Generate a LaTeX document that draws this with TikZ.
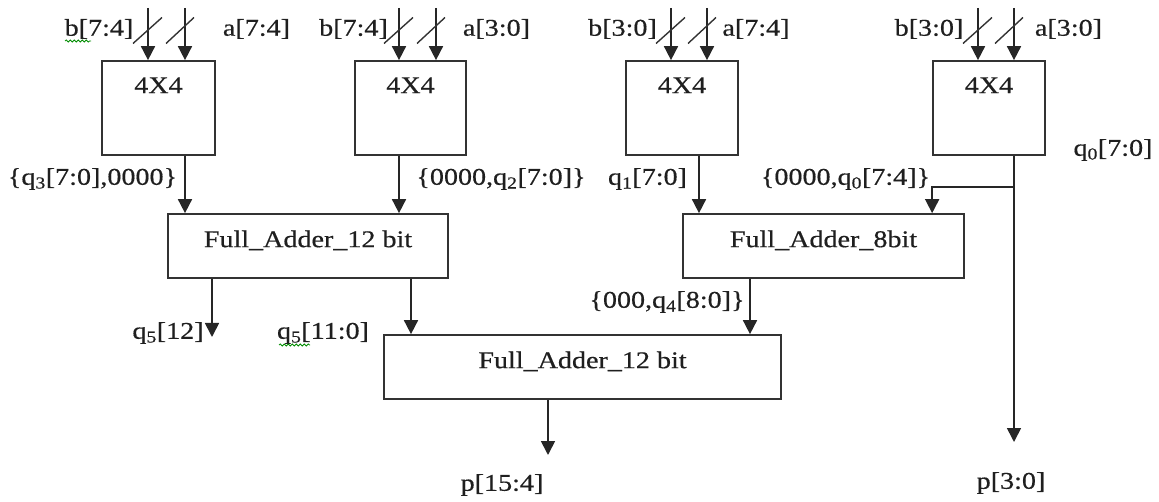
\documentclass[tikz,border=0pt]{standalone}
\usepackage{fontspec}
\setmainfont[FakeStretch=1.17,FakeBold=0.5]{Liberation Serif}
\usetikzlibrary{arrows.meta,decorations.pathmorphing}
\begin{document}
\begin{tikzpicture}[x=1pt,y=-1pt,
  font=\fontsize{24}{28}\selectfont,
  blk/.style={draw=black!80, line width=1.7pt, fill=white, inner sep=0pt},
  wire/.style={draw=black!85, line width=1.7pt},
  arr/.style={wire, -{Triangle[width=14pt,length=14pt]}},
  lbl/.style={inner sep=0pt, text=black!88},
  slash/.style={draw=black!80, line width=1.4pt},
  squig/.style={draw=green!55!black, line width=0.8pt, decorate,
    decoration={snake, amplitude=1pt, segment length=4pt}}]
\useasboundingbox (0,0) rectangle (1159,502);

% 4x4 multiplier blocks
\node[blk, minimum width=113pt, minimum height=94pt] (m1) at (158.5,108) {};
\node[blk, minimum width=111pt, minimum height=94pt] (m2) at (410.5,108) {};
\node[blk, minimum width=112pt, minimum height=94pt] (m3) at (682,108) {};
\node[blk, minimum width=112pt, minimum height=94pt] (m4) at (989,108) {};
\node[lbl, anchor=base] (m1t) at ([yshift=-33pt]m1.north) {4X4};
\node[lbl, anchor=base] (m2t) at ([yshift=-33pt]m2.north) {4X4};
\node[lbl, anchor=base] (m3t) at ([yshift=-33pt]m3.north) {4X4};
\node[lbl, anchor=base] (m4t) at ([yshift=-33pt]m4.north) {4X4};

% adders
\node[blk, minimum width=280pt, minimum height=64pt] (fa1) at (308,246) {};
\node[blk, minimum width=281pt, minimum height=64pt] (fa2) at (823.5,246) {};
\node[blk, minimum width=397pt, minimum height=64pt] (fa3) at (582.5,367) {};
\node[lbl, anchor=base] (fa1t) at ([yshift=-34pt]fa1.north) {Full\_Adder\_12 bit};
\node[lbl, anchor=base] (fa2t) at ([yshift=-34pt]fa2.north) {Full\_Adder\_8bit};
\node[lbl, anchor=base] (fa3t) at ([yshift=-34pt]fa3.north) {Full\_Adder\_12 bit};

% input coordinates
\coordinate (b1) at (148,8);   \coordinate (a1) at (185,8);
\coordinate (b2) at (399,8);   \coordinate (a2) at (436,8);
\coordinate (b3) at (671,8);   \coordinate (a3) at (707,8);
\coordinate (b4) at (978,8);   \coordinate (a4) at (1014,8);

\foreach \i in {1,2,3,4}{
  \draw[arr] (b\i) -- (b\i |- m\i.north);
  \draw[arr] (a\i) -- (a\i |- m\i.north);
  \draw[slash] ([shift={(-15,35.5)}]b\i) -- ([shift={(14,9.5)}]b\i);
  \draw[slash] ([shift={(-19,35.5)}]a\i) -- ([shift={(9,9.5)}]a\i);
}

% input labels
\node[lbl] (lb1) at (99,29) {b[7:4]};
\node[lbl] (la1) at (256.5,29) {a[7:4]};
\node[lbl] (lb2) at (353.5,29) {b[7:4]};
\node[lbl] (la2) at (496.5,29) {a[3:0]};
\node[lbl] (lb3) at (622.5,29) {b[3:0]};
\node[lbl] (la3) at (756,29) {a[7:4]};
\node[lbl] (lb4) at (929,29) {b[3:0]};
\node[lbl] (la4) at (1068.5,29) {a[3:0]};

% multiplier outputs
\coordinate (o3) at (699,0);
\coordinate (o4) at (750,0);
\coordinate (o5) at (411,0);
\coordinate (br) at (1014,187);
\coordinate (q12) at (212,337);
\coordinate (p1) at (548,455);
\coordinate (p0) at (1014,442);

\draw[arr] (m1.south -| a1) -- (fa1.north -| a1);
\draw[arr] (m2.south -| b2) -- (fa1.north -| b2);
\draw[arr] (m3.south -| o3) -- (fa2.north -| o3);
\draw[arr] (m4.south -| p0) -- (p0);
\draw[arr] (br) -| (fa2.north -| m4.west);

\draw[arr] (fa1.south -| q12) -- (q12);
\draw[arr] (fa1.south -| o5) -- (fa3.north -| o5);
\draw[arr] (fa2.south -| o4) -- (fa3.north -| o4);
\draw[arr] (fa3.south -| p1) -- (p1);

% signal labels
\node[lbl] (lq3) at (92.5,179) {\{q\textsubscript{3}[7:0],0000\}};
\node[lbl] (lq2) at (501,179) {\{0000,q\textsubscript{2}[7:0]\}};
\node[lbl] (lq1) at (647.5,179) {q\textsubscript{1}[7:0]};
\node[lbl] (lq0h) at (845.5,179) {\{0000,q\textsubscript{0}[7:4]\}};
\node[lbl] (lq0) at (1113,150) {q\textsubscript{0}[7:0]};
\node[lbl] (lq5h) at (168,333) {q\textsubscript{5}[12]};
\node[lbl] (lq5) at (323,333) {q\textsubscript{5}[11:0]};
\node[lbl] (lq4) at (667,302) {\{000,q\textsubscript{4}[8:0]\}};
\node[lbl] (lp1) at (502,485) {p[15:4]};
\node[lbl] (lp0) at (1011,483) {p[3:0]};

% spell-check squiggles
\draw[squig] (65,41) -- (91,41);
\draw[squig] (279,345) -- (310,345);
\end{tikzpicture}
\end{document}
